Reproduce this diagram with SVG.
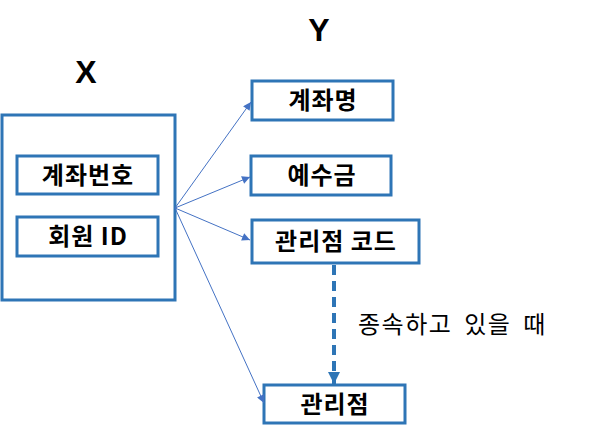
<svg xmlns="http://www.w3.org/2000/svg" width="600" height="433" viewBox="0 0 600 433">
<style>
.box{fill:#fff;stroke:#2e75b6;stroke-width:3}
.lbl{font-family:"Noto Sans CJK KR","Liberation Sans",sans-serif;font-weight:bold;font-size:24px;letter-spacing:1px;text-anchor:middle;fill:#000}
.big{font-family:"Liberation Sans",Arial,sans-serif;font-weight:bold;font-size:32px;text-anchor:middle;fill:#000}
.note{font-family:"Noto Sans CJK KR",sans-serif;font-size:24px;letter-spacing:1.5px;word-spacing:5px;fill:#000}
.arr{stroke:#4472c4;stroke-width:1;fill:none;marker-end:url(#a)}
</style>
<defs>
<marker id="a" viewBox="0 0 10 10" refX="10" refY="5" markerWidth="10" markerHeight="8" markerUnits="userSpaceOnUse" orient="auto"><path d="M0,0 L10,5 L0,10 z" fill="#4472c4"/></marker>
<marker id="b" viewBox="0 0 10 10" refX="10" refY="5" markerWidth="12" markerHeight="12" markerUnits="userSpaceOnUse" orient="auto"><path d="M0,0 L10,5 L0,10 z" fill="#2e75b6"/></marker>
</defs>
<text class="big" x="86" y="83">X</text>
<text class="big" x="319" y="41">Y</text>
<g id="X">
<rect class="box" x="2" y="115" width="173" height="185"/>
</g>
<g id="n1"><rect class="box" x="17" y="156" width="141" height="38"/><text class="lbl" x="88" y="184">계좌번호</text></g>
<g id="n2"><rect class="box" x="17" y="217" width="141" height="39"/><text class="lbl" x="88" y="245">회원 ID</text></g>
<g id="y1"><rect class="box" x="252" y="81" width="141" height="39"/><text class="lbl" x="323" y="109">계좌명</text></g>
<g id="y2"><rect class="box" x="251" y="156" width="140" height="39"/><text class="lbl" x="322" y="184">예수금</text></g>
<g id="y3"><rect class="box" x="252" y="220" width="167" height="43"/><text class="lbl" x="336" y="250">관리점 코드</text></g>
<g id="y4"><rect class="box" x="264" y="385" width="141" height="38"/><text class="lbl" x="335" y="413">관리점</text></g>
<g id="connectors">
<line class="arr" x1="175" y1="208" x2="251" y2="102"/>
<line class="arr" x1="175" y1="208" x2="250" y2="177"/>
<line class="arr" x1="175" y1="208" x2="250" y2="240"/>
<line class="arr" x1="175" y1="208" x2="264" y2="403"/>
<line x1="334" y1="265" x2="334" y2="384" stroke="#2e75b6" stroke-width="4" stroke-dasharray="10,6" marker-end="url(#b)"/>
</g>
<text class="note" x="358" y="333">종속하고 있을 때</text>
</svg>
